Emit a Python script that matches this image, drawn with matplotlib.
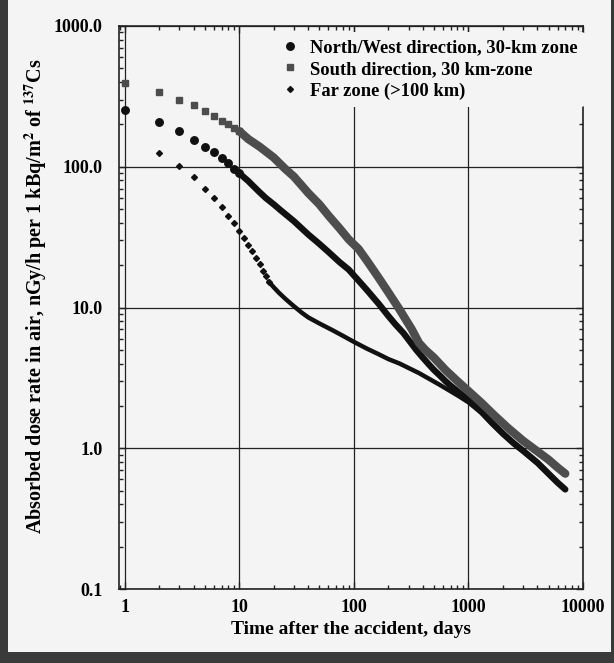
"""Absorbed dose rate in air after the accident, per unit 137Cs deposition."""

import matplotlib
matplotlib.use("Agg")
import matplotlib.pyplot as plt
import numpy as np
from matplotlib.patches import Rectangle
from matplotlib.ticker import NullFormatter

plt.rcParams["font.family"] = ["Liberation Serif", "DejaVu Serif"]
plt.rcParams["font.weight"] = "bold"
plt.rcParams["mathtext.fontset"] = "stix"

# North/West direction, 30-km zone (circles)
nw_days = [1, 2, 3, 4, 5, 6, 7, 8, 9, 10, 11, 12, 13, 15, 17, 20, 23, 27, 30, 35, 40,
           50, 60, 75, 90, 110, 130, 150, 165, 200, 230, 270, 300, 350, 400, 450, 500,
           560, 630, 700, 800, 900, 1000, 1150, 1300, 1600, 2000, 2500, 3000, 4000,
           5000, 6000, 7000]
nw_dose = [252, 208, 179, 156, 139, 128, 115, 106, 97, 90, 84, 79, 74, 66, 60, 54, 49,
           44, 41, 36.5, 33, 28.3, 24.8, 21, 18.6, 15.5, 13.3, 11.6, 10.6, 8.7, 7.6,
           6.6, 5.9, 5.0, 4.4, 3.95, 3.6, 3.3, 3.0, 2.78, 2.55, 2.36, 2.2, 2.0, 1.82,
           1.52, 1.27, 1.08, 0.96, 0.79, 0.66, 0.57, 0.51]

# South direction, 30 km-zone (squares)
south_days = [1, 2, 3, 4, 5, 6, 7, 8, 9, 10, 12, 15, 18, 20, 25, 30, 40, 50, 60, 75, 90,
              110, 130, 165, 200, 250, 320, 370, 420, 500, 630, 800, 1000, 1300, 1700,
              2200, 3000, 4000, 5000, 6000, 7000]
south_dose = [396, 337, 300, 274, 248, 230, 213, 200, 189, 179, 157, 139, 124, 116, 97,
              85, 65, 54, 45, 36.5, 30.5, 26, 21.5, 16.2, 12.8, 9.7, 7.0, 5.6, 5.0, 4.4,
              3.6, 3.0, 2.55, 2.1, 1.7, 1.4, 1.13, 0.95, 0.83, 0.73, 0.66]

# Far zone (>100 km) (diamonds)
far_days = [2, 3, 4, 5, 6, 7, 8, 9, 10, 11, 12, 13, 14, 15, 16, 17, 18, 20, 22, 25, 28,
            30, 35, 40, 50, 65, 80, 100, 130, 165, 200, 250, 370, 550, 820, 1000, 1300,
            1600, 2000, 2500, 3000, 4000, 5000, 6000, 7000]
far_dose = [126, 101, 84, 70, 60, 52, 45, 39.6, 35, 31, 27.8, 25.2, 22.6, 20.4, 18.3,
            16.8, 15.3, 13.9, 12.8, 11.6, 10.7, 10.2, 9.2, 8.5, 7.7, 6.9, 6.3, 5.7, 5.1,
            4.65, 4.3, 4.0, 3.42, 2.85, 2.35, 2.12, 1.78, 1.5, 1.26, 1.07, 0.95, 0.78,
            0.65, 0.57, 0.51]

x_ticks = [1, 10, 100, 1000, 10000]
x_labels = ["1", "10", "100", "1000", "10000"]
y_ticks = [0.1, 1, 10, 100, 1000]
y_labels = ["0.1", "1.0", "10.0", "100.0", "1000.0"]

BG = "#f4f4f4"


def draw_series(ax, days, dose, split, marker, ms, lw, color, label):
    days = np.asarray(days, dtype=float)
    dose = np.asarray(dose, dtype=float)
    late = days >= split
    ax.plot(days[late], dose[late], "-", color=color, lw=lw,
            solid_capstyle="round", solid_joinstyle="round", zorder=3)
    early = days <= split
    handle, = ax.plot(days[early], dose[early], linestyle="none", marker=marker,
                      ms=ms, color=color, mec=color, label=label, zorder=4)
    return handle


fig = plt.figure(figsize=(6.14, 6.63), dpi=100)
fig.set_facecolor("#3a3a3a")
fig.patches.append(Rectangle((8 / 614, 11 / 663), 603 / 614, 1.0,
                             transform=fig.transFigure, facecolor=BG,
                             edgecolor="none", zorder=-1))

ax = fig.add_axes([119 / 614, 1 - 589 / 663, 464 / 614, 563 / 663])
ax.set_facecolor(BG)
ax.set_xscale("log")
ax.set_yscale("log")
ax.set_xlim(0.89, 10000)
ax.set_ylim(0.1, 1000)

h1 = draw_series(ax, nw_days, nw_dose, 10, "o", 5.4, 4.6, "#111111",
                 "North/West direction, 30-km zone")
h2 = draw_series(ax, south_days, south_dose, 10, "s", 5.0, 6.0, "#4d4d4d",
                 "South direction, 30 km-zone")
h3 = draw_series(ax, far_days, far_dose, 18, "D", 3.0, 3.2, "#111111",
                 "Far zone (>100 km)")

ax.grid(True, which="major", color="#222222", lw=0.9)
ax.set_axisbelow(True)

ax.set_xticks(x_ticks)
ax.set_xticklabels(x_labels)
ax.set_yticks(y_ticks)
ax.set_yticklabels(y_labels)
ax.xaxis.set_minor_formatter(NullFormatter())
ax.yaxis.set_minor_formatter(NullFormatter())
ax.tick_params(which="both", direction="in", top=True, right=True,
               labelsize=13, width=1.0, color="#222222")
ax.tick_params(which="major", length=5)
ax.tick_params(which="minor", length=3)
ax.tick_params(axis="x", pad=7)
ax.tick_params(axis="y", pad=12)
for spine in ax.spines.values():
    spine.set_linewidth(1.2)
    spine.set_color("#222222")

ax.set_xlabel("Time after the accident, days", fontsize=14, fontweight="bold", labelpad=4)
ax.set_ylabel(r"Absorbed dose rate in air, nGy/h per 1 kBq/m$^{2}$ of $^{137}$Cs",
              fontsize=14.5, fontweight="bold")
ax.yaxis.set_label_coords(-0.150, 0.52)

leg = ax.legend(handles=[h1, h2, h3], loc="upper right", bbox_to_anchor=(1.008, 0.993),
                frameon=True, facecolor=BG, edgecolor="none", framealpha=1.0,
                fontsize=13.3, handlelength=1.0, handletextpad=0.6,
                labelspacing=0.25, borderpad=0.4, borderaxespad=0.1)
leg.get_frame().set_linewidth(0)

fig.savefig("out.png", dpi=100, facecolor=fig.get_facecolor())
